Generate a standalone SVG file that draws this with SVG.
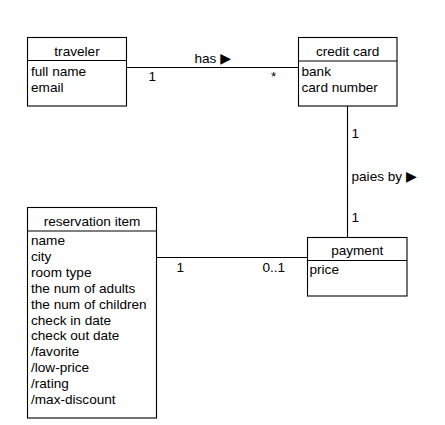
<svg xmlns="http://www.w3.org/2000/svg" width="445" height="425" viewBox="0 0 445 425">
<style>
  .box { fill: #ffffff; stroke: #000000; stroke-width: 1.1; }
  .ln { fill: none; stroke: #000000; stroke-width: 1.1; }
  text { font-family: "Liberation Sans", Arial, "DejaVu Sans", sans-serif; font-size: 13.6px; fill: #000000; }
  .hd { text-anchor: middle; }
  .tri { font-family: "DejaVu Sans", sans-serif; font-size: 14px; }
</style>
<rect x="0" y="0" width="445" height="425" fill="#ffffff"/>
<g id="connectors">
  <line class="ln" x1="126.5" y1="67.5" x2="298.5" y2="67.5"/>
  <line class="ln" x1="347.5" y1="106" x2="347.5" y2="237"/>
  <line class="ln" x1="156.5" y1="257.5" x2="307.5" y2="257.5"/>
  <text x="194.5" y="62.5">has <tspan class="tri">▶</tspan></text>
  <text x="148.5" y="81">1</text>
  <text x="271" y="81">*</text>
  <text x="351.5" y="138">1</text>
  <text x="351.5" y="180.5">paies by <tspan class="tri">▶</tspan></text>
  <text x="351.5" y="222">1</text>
  <text x="176.5" y="271.5">1</text>
  <text x="262.5" y="271.5">0..1</text>
</g>
<g id="traveler">
  <rect class="box" x="27.5" y="37.5" width="99" height="68.5"/>
  <line class="ln" x1="27.5" y1="60.5" x2="126.5" y2="60.5"/>
  <text class="hd" x="77" y="56">traveler</text>
  <text x="31" y="76">full name</text>
  <text x="31" y="91.7">email</text>
</g>
<g id="credit-card">
  <rect class="box" x="298.5" y="37.5" width="98.5" height="68.5"/>
  <line class="ln" x1="298.5" y1="61" x2="397" y2="61"/>
  <text class="hd" x="347.7" y="56">credit card</text>
  <text x="301.5" y="76">bank</text>
  <text x="301.5" y="91.7">card number</text>
</g>
<g id="reservation-item">
  <rect class="box" x="27.5" y="207.5" width="129" height="210.5"/>
  <line class="ln" x1="27.5" y1="231" x2="156.5" y2="231"/>
  <text class="hd" x="92" y="225.5">reservation item</text>
  <text x="31" y="245">name</text>
  <text x="31" y="260.9">city</text>
  <text x="31" y="276.8">room type</text>
  <text x="31" y="292.7">the num of adults</text>
  <text x="31" y="308.6">the num of children</text>
  <text x="31" y="324.5">check in date</text>
  <text x="31" y="340.4">check out date</text>
  <text x="31" y="356.3">/favorite</text>
  <text x="31" y="372.2">/low-price</text>
  <text x="31" y="388.1">/rating</text>
  <text x="31" y="404">/max-discount</text>
</g>
<g id="payment">
  <rect class="box" x="307.5" y="237.5" width="99.5" height="58.5"/>
  <line class="ln" x1="307.5" y1="260.5" x2="407" y2="260.5"/>
  <text class="hd" x="357.2" y="255">payment</text>
  <text x="309.5" y="273.5">price</text>
</g>
</svg>
